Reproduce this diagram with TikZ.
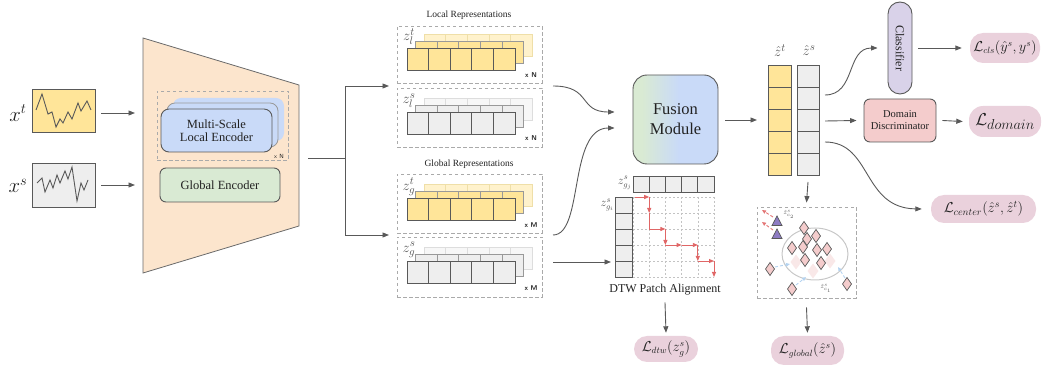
\documentclass[tikz,border=0pt]{standalone}
\usepackage{fontspec}
\setmainfont{Liberation Serif}
\usetikzlibrary{arrows.meta,calc}

\definecolor{cyel}{HTML}{FFE599}
\definecolor{cyelL}{HTML}{FFF2CC}
\definecolor{cyelD}{HTML}{EFDFA8}
\definecolor{cgry}{HTML}{EEEEEE}
\definecolor{cgryL}{HTML}{F7F7F7}
\definecolor{cgryD}{HTML}{DDDDDD}
\definecolor{cline}{HTML}{595959}
\definecolor{cmid}{HTML}{999999}
\definecolor{cdash}{HTML}{AAAAAA}
\definecolor{cenc}{HTML}{FCE5CD}
\definecolor{cblue}{HTML}{C9DAF8}
\definecolor{cgreen}{HTML}{D9EAD3}
\definecolor{cpink}{HTML}{EAD1DC}
\definecolor{clav}{HTML}{D9D2E9}
\definecolor{cred}{HTML}{F4CCCC}
\definecolor{cfade}{HTML}{F9E8E8}
\definecolor{cpath}{HTML}{E06666}
\definecolor{ctri}{HTML}{8E7CC3}
\definecolor{clblue}{HTML}{B4D3F0}
\definecolor{ctext}{HTML}{222222}
\definecolor{cgtext}{HTML}{555555}

\pgfdeclarehorizontalshading{fusionshade}{100bp}{color(0bp)=(cgreen); color(30bp)=(cgreen); color(52bp)=(cblue); color(100bp)=(cblue)}

\tikzset{
  arr/.style={draw=cline, line width=0.9pt, -{Triangle[length=6.5pt,width=5pt]}},
  wire/.style={draw=cline, line width=0.9pt},
  dashbox/.style={draw=cdash, line width=0.8pt, dash pattern=on 3.5pt off 2.5pt, inner sep=0pt},
  pill/.style={fill=cpink, rounded corners=13pt, inner sep=0pt, text=ctext},
  card/.style={draw=cline, line width=0.9pt, inner sep=0pt, align=center, text=ctext},
  lbl/.style={inner sep=0pt, text=cgtext},
  counttag/.style={inner sep=0pt, font=\sffamily\bfseries\fontsize{7}{8}\selectfont, text=ctext},
  redarr/.style={draw=cpath, line width=0.9pt, -{Triangle[length=5pt,width=4pt]}},
  griddash/.style={draw=cdash!70, line width=0.5pt, dash pattern=on 2pt off 2pt},
  hold/.style={inner sep=0pt, outer sep=0pt},
}

% one row of five patch tokens
\newcommand{\reprow}[5]{%
  \foreach \k in {0,...,4}
    \draw[fill=#3, draw=#4, line width=#5] ({#1+21.6*\k},{#2}) rectangle ++(21.6,22);}
% three stacked rows of tokens, front row top edge at #1
\newcommand{\repstack}[4]{%
  \reprow{424}{#1-15}{#3}{#4}{0.6pt}
  \reprow{415.5}{#1-7.5}{#2}{cmid}{0.8pt}
  \reprow{407}{#1}{#2}{cline}{1pt}}
% embedding markers
\newcommand{\sdiamond}[2]{%
  \draw[fill=cred, draw=cline, line width=0.7pt] (#1,{#2-6.5}) -- ({#1+4.5},#2) -- (#1,{#2+6.5}) -- ({#1-4.5},#2) -- cycle;}
\newcommand{\fdiamond}[2]{%
  \fill[cfade] (#1,{#2-7.5}) -- ({#1+5.5},#2) -- (#1,{#2+7.5}) -- ({#1-5.5},#2) -- cycle;}
\newcommand{\stri}[2]{%
  \draw[fill=ctri, draw=cline, line width=0.7pt] ({#1-5},{#2+4.5}) -- ({#1+5},{#2+4.5}) -- (#1,{#2-5}) -- cycle;}

\begin{document}
\begin{tikzpicture}[x=1pt,y=-1pt]
\useasboundingbox (0,0) rectangle (1042,371);

% ---------------- inputs ----------------
\node[hold, text=ctext, font=\fontsize{20}{24}\selectfont] (lxt) at (18,113) {$x^t$};
\node[hold, text=ctext, font=\fontsize{20}{24}\selectfont] (lxs) at (18,186) {$x^s$};
\node[card, fill=cyel, minimum width=63, minimum height=43] (xt) at (63.5,110.5) {};
\node[card, fill=cgry, minimum width=63, minimum height=44] (xs) at (63.5,185) {};
\draw[cline, line width=0.9pt] plot coordinates {(36,110) (42,94) (48,114) (52,112) (56,127) (60,119) (63,123) (68,112) (72,119) (78,103) (81,111) (87,101) (91,110)};
\draw[cline, line width=0.9pt] plot coordinates {(37,183) (42,178) (45,192) (50,180) (53,188) (57,175) (60,183) (65,171) (68,179) (72,167) (77,201) (81,183) (84,190) (88,180)};

% ---------------- encoder ----------------
\draw[fill=cenc, draw=cline!90, line width=0.8pt] (143,38) -- (299,85) -- (299,226) -- (143,273) -- cycle;
\coordinate (ein1) at (135,113);
\coordinate (ein2) at (135,185);
\draw[arr] ([xshift=6pt,yshift=-2.5pt]xt.east) -- (ein1);
\draw[arr] ([xshift=6pt]xs.east) -- (ein2);

\node[dashbox, minimum width=131, minimum height=69] (msbox) at (222.5,125.5) {};
\fill[cblue, rounded corners=8pt] (173,98) rectangle (284,141);
\draw[fill=cblue, draw=cmid, line width=0.8pt, rounded corners=8pt] (167,103) rectangle (278,147);
\node[card, fill=cblue, rounded corners=8pt, minimum width=111, minimum height=43,
      font=\fontsize{12.5}{14}\selectfont] (mslocal) at (216.5,130.5) {Multi-Scale\\[-1pt]Local Encoder};
\node[counttag, font=\sffamily\fontsize{6}{7}\selectfont] (nms) at (279,156) {x N};
\node[card, fill=cgreen, rounded corners=6pt, minimum width=120, minimum height=34,
      font=\fontsize{12.5}{14}\selectfont] (genc) at (220,185) {Global Encoder};

% ---------------- split to representations ----------------
\coordinate (eout) at (308,158);
\coordinate (split) at (345,158);
\coordinate (inL) at (389,86);
\coordinate (inG) at (389,235);
\draw[wire] (eout) -- (split);
\draw[arr] (split) |- (inL);
\draw[arr] (split) |- (inG);

% ---------------- representations ----------------
\node[hold, text=ctext, font=\fontsize{9.5}{11}\selectfont] (ttlL) at (469,15) {Local Representations};
\node[hold, text=ctext, font=\fontsize{9.5}{11}\selectfont] (ttlG) at (469,164) {Global Representations};

\node[dashbox, minimum width=145, minimum height=57] (lt) at (469.5,54.5) {};
\node[dashbox, minimum width=145, minimum height=59] (ls) at (469.5,117.5) {};
\node[dashbox, minimum width=145, minimum height=59] (gt) at (469.5,203.5) {};
\node[dashbox, minimum width=145, minimum height=60] (gs) at (469.5,267) {};

\repstack{49}{cyel}{cyelL}{cyelD}
\repstack{113}{cgry}{cgryL}{cgryD}
\repstack{199}{cyel}{cyelL}{cyelD}
\repstack{262}{cgry}{cgryL}{cgryD}

\node[lbl, font=\fontsize{15}{17}\selectfont] (zlt) at (409,37) {$z_l^t$};
\node[lbl, font=\fontsize{15}{17}\selectfont] (zls) at (409,101) {$z_l^s$};
\node[lbl, font=\fontsize{15}{17}\selectfont] (zgt) at (409,187) {$z_g^t$};
\node[lbl, font=\fontsize{15}{17}\selectfont] (zgs) at (409,250) {$z_g^s$};
\node[counttag] (nlt) at (531,75) {x N};
\node[counttag] (nls) at (531,138) {x N};
\node[counttag] (ngt) at (531,225) {x M};
\node[counttag] (ngs) at (531,288) {x M};

% ---------------- fusion ----------------
\node[card, shading=fusionshade, rounded corners=14pt, minimum width=85, minimum height=89,
      font=\fontsize{16.5}{19}\selectfont] (fusion) at (675.5,119.5) {Fusion\\[1pt]Module};
\coordinate (oL) at (553,86);
\coordinate (oG) at (553,235);
\coordinate (oG2) at (553,262);
\draw[arr] (oL) .. controls (592,86) and (578,112) .. ($(fusion.west)+(-18,-7.5)$);
\draw[arr] (oG) .. controls (584,235) and (568,128) .. ($(fusion.west)+(-18,8.5)$);

% ---------------- DTW patch alignment ----------------
\foreach \k in {0,...,5} \draw[griddash] ({633+16.2*\k},197) -- ++(0,80);
\foreach \k in {0,...,5} \draw[griddash] (633,{197+16*\k}) -- ++(81,0);
\node[hold, minimum width=81, minimum height=16] (gj) at (673.5,184) {};
\node[hold, minimum width=17, minimum height=80] (gi) at (623.5,237) {};
\foreach \k in {0,...,4} \draw[fill=cgry, draw=cline, line width=0.9pt] ({633+16.2*\k},176) rectangle ++(16.2,16);
\foreach \k in {0,...,4} \draw[fill=cgry, draw=cline, line width=0.9pt] (615,{197+16*\k}) rectangle ++(17,16);
\node[lbl, font=\fontsize{12}{14}\selectfont, anchor=east] (zgj) at (632,183) {$z^s_{g_j}$};
\node[lbl, font=\fontsize{12}{14}\selectfont, anchor=east] (zgi) at (614,205) {$z^s_{g_i}$};
\coordinate (gin) at (611,262);
\draw[arr] (oG2) -- (gin);

\draw[redarr] (635,197) -- (649.2,197);
\draw[redarr] (649.2,197) -- (649.2,213);
\draw[cpath, line width=0.9pt] (649.2,213) -- (649.2,229);
\draw[redarr] (649.2,229) -- (665.4,229);
\draw[redarr] (665.4,229) -- (665.4,245);
\draw[redarr] (665.4,245) -- (681.6,245);
\draw[redarr] (681.6,245) -- (697.8,245);
\draw[redarr] (697.8,245) -- (697.8,261);
\draw[redarr] (697.8,261) -- (714,261);
\draw[redarr] (714,261) -- (714,277);

\node[hold, text=ctext, font=\fontsize{12}{14}\selectfont] (dtwlbl) at (665,290) {DTW Patch Alignment};
\node[pill, minimum width=64, minimum height=26, font=\fontsize{13.5}{15}\selectfont] (ldtw) at (666,349) {$\mathcal{L}_{dtw}(z^s_g)$};
\draw[arr] ([yshift=-7pt]dtwlbl.south) -- ([yshift=3pt]ldtw.north);

% ---------------- fused embeddings ----------------
\node[hold, minimum width=23, minimum height=110] (zt) at (779.5,120) {};
\node[hold, minimum width=22, minimum height=110] (zs) at (808,120) {};
\foreach \k in {0,...,4} \draw[fill=cyel, draw=cline, line width=0.9pt] (768,{65+22*\k}) rectangle ++(23,22);
\foreach \k in {0,...,4} \draw[fill=cgry, draw=cline, line width=0.9pt] (797,{65+22*\k}) rectangle ++(22,22);
\node[lbl, font=\fontsize{15}{17}\selectfont] (lzt) at (780,51) {$\hat z^t$};
\node[lbl, font=\fontsize{15}{17}\selectfont] (lzs) at (809,51) {$\hat z^s$};
\draw[arr] ([xshift=7pt]fusion.east |- zt.west) -- ([xshift=-11pt]zt.west);

% ---------------- heads ----------------
\node[card, fill=clav, rounded corners=12pt, minimum width=24, minimum height=92] (cls) at (900,48) {};
\node[hold, rotate=-90, text=ctext, font=\fontsize{12}{14}\selectfont] (clstxt) at (cls.center) {Classifier};
\node[card, fill=cred, rounded corners=6pt, minimum width=72, minimum height=43,
      font=\fontsize{10.5}{12}\selectfont] (dd) at (900,120.5) {Domain\\Discriminator};

\node[pill, minimum width=70, minimum height=30, font=\fontsize{13.5}{15}\selectfont] (lcls) at (1005,48) {$\mathcal{L}_{cls}(\hat y^s, y^s)$};
\node[pill, minimum width=72, minimum height=31, rounded corners=14pt, font=\fontsize{19}{21}\selectfont] (ldom) at (1005,121.5) {$\mathcal{L}_{domain}$};
\node[pill, minimum width=105, minimum height=28, font=\fontsize{14.5}{16}\selectfont] (lcen) at (983.5,209) {$\mathcal{L}_{center}(\hat z^s, \hat z^t)$};

\draw[arr] ($(zs.east)+(6,-25)$) .. controls (856,95) and (846,48) .. ([xshift=-10pt]cls.west);
\draw[arr] ($(zs.east)+(6,1)$) -- ([xshift=-7pt]dd.west);
\draw[arr] ($(zs.east)+(6,22)$) .. controls (872,142) and (862,208) .. ([xshift=-9pt]lcen.west);
\draw[arr] ([xshift=6pt]cls.east) -- ([xshift=-8pt]lcls.west);
\draw[arr] ([xshift=6pt]dd.east) -- ([xshift=-6pt]ldom.west);

% ---------------- global prototype alignment ----------------
\node[dashbox, minimum width=99, minimum height=91] (scat) at (806.5,252.5) {};
\draw[arr] ([yshift=-7pt]zs.south) -- ([yshift=4pt]scat.north);

\draw[draw=black!22, line width=1pt] (815,254) ellipse [x radius=33pt, y radius=26pt];
\fdiamond{796}{262}
\fdiamond{813}{271}
\fdiamond{830}{261}
\sdiamond{804}{228}
\sdiamond{816}{236}
\sdiamond{807}{239}
\sdiamond{792}{248}
\sdiamond{803}{247}
\sdiamond{817}{250}
\sdiamond{827}{249}
\sdiamond{805}{260}
\sdiamond{821}{263}
\sdiamond{770}{269}
\sdiamond{847}{284}
\sdiamond{792}{289}

\draw[clblue, line width=0.9pt, dash pattern=on 3pt off 2pt, -{Triangle[length=4pt,width=3.5pt]}] (775,267) -- (790,264);
\draw[clblue, line width=0.9pt, dash pattern=on 3pt off 2pt, -{Triangle[length=4pt,width=3.5pt]}] (796,285) -- (806,277);
\draw[clblue, line width=0.9pt, dash pattern=on 3pt off 2pt, -{Triangle[length=4pt,width=3.5pt]}] (845,278) -- (838,267);

\draw[cpath!90, line width=0.9pt, dash pattern=on 3pt off 2pt, -{Triangle[length=4pt,width=3.5pt]}] (773,217) -- (762,210);
\draw[cpath!90, line width=0.9pt, dash pattern=on 3pt off 2pt, -{Triangle[length=4pt,width=3.5pt]}] (773,230) -- (762,222);
\stri{777}{221}
\stri{777}{234}
\node[lbl, font=\fontsize{6}{7}\selectfont] (c2) at (789,214) {$\hat z^s_{c_2}$};
\node[lbl, font=\fontsize{6}{7}\selectfont] (c1) at (826,288) {$\hat z^s_{c_1}$};

\node[pill, minimum width=73, minimum height=29, font=\fontsize{13.5}{15}\selectfont] (lglob) at (807.5,350.5) {$\mathcal{L}_{global}(\hat z^s)$};
\draw[arr] ([yshift=-9pt]scat.south) -- ([yshift=3pt]lglob.north);

\end{tikzpicture}
\end{document}
